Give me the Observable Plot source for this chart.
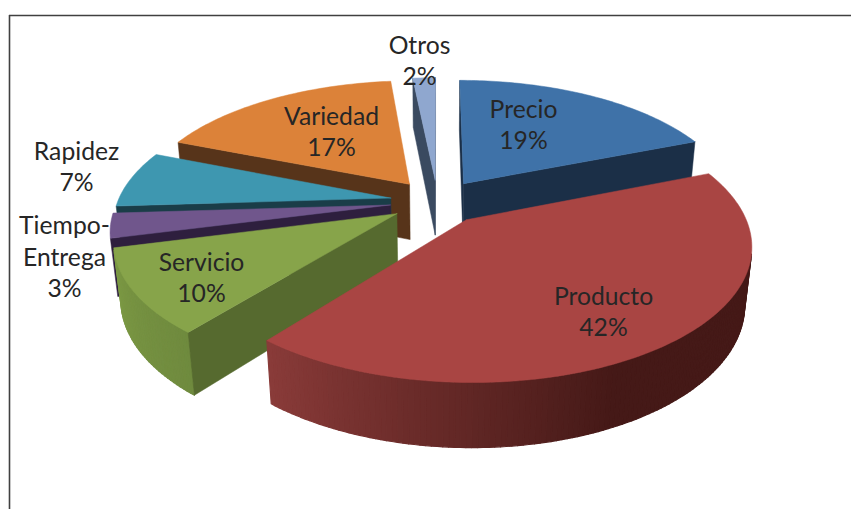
<!DOCTYPE html>
<html><head><meta charset="utf-8">
<style>html,body{margin:0;padding:0;background:#fff}svg{display:block}</style>
<script src="https://cdn.jsdelivr.net/npm/d3@7"></script>
<script src="https://cdn.jsdelivr.net/npm/@observablehq/plot@0.6"></script>
</head><body><div id="chart"></div>
<script>
// Data, clockwise from 12 o'clock
const names = ["Precio","Producto","Servicio","Tiempo-\nEntrega","Rapidez","Variedad","Otros"];
const values = [19,41.8,10.2,3,7,17.4,1.6];
const shown = [19,42,10,3,7,17,2];
// Styles
const topColors = ["#3f72a8","#a94543","#87a44a","#70568c","#3e97b0","#dc8239","#8fa7cf"];
const wallColors = ["#1b2f47","#451917","#566a2f","#2e1f3e","#1a3d48","#57341a","#3a4a60"];
const arcDark = ["#1b2f47","#451917","#6f8a3e","#2e1f3e","#1a3d48","#57341a","#3a4a60"];
const arcLight = ["#1b2f47","#8a3b39","#7c9944","#2e1f3e","#1a3d48","#57341a","#3a4a60"];
const arcDarkFrom = [0,155,219,0,0,0,0];
// Label spots in the pie plane (radius = 1)
const labelX = [0.3524,0.5281,-0.7826,-1.2701,-1.3893,-0.4297,-0.0818];
const labelY = [0.6776,-0.7516,-0.5413,-0.4023,0.2893,0.6095,1.3766];
// Paint order: back to front
const paintOrder = [6,5,0,4,3,2,1];

// Perspective camera
const cx=437, cy=201, R=273, V=127.1, k=0.175, depthBottom=0.022, H=57.5, explode=0.174;
const rad=d=>d*Math.PI/180;
function project(X,Y,bottom){
  const d=1+k*Y+(bottom?depthBottom:0);
  return [cx+R*X/d, cy-V*Y/d+(bottom?H/d:0)];
}
const total=d3.sum(values);
let cum=0;
const slices=values.map((v,i)=>{const a0=cum/total*360;cum+=v;const a1=cum/total*360;return {i,a0,a1,mid:(a0+a1)/2};});

let pid=0;
function poly(target,list,color){
  const id=pid++;
  [...list,list[0]].forEach(p=>target.push({id,px:p[0],py:p[1],color}));
}
function area(l){let s=0;for(let i=0;i<l.length;i++){const a=l[i],b=l[(i+1)%l.length];s+=a[0]*b[1]-b[0]*a[1];}return s/2;}
function wall(target,l,c){if(area(l)<0)poly(target,l,c);}

const all=[];
for(const si of paintOrder){
  const s=slices[si];
  const ex=Math.sin(rad(s.mid))*explode, ey=Math.cos(rad(s.mid))*explode;
  const at=(a,b)=>project(ex+Math.sin(rad(a)),ey+Math.cos(rad(a)),b);
  const apex=b=>project(ex,ey,b);
  const wc=wallColors[si];
  const rs=[],st=[],tp=[];
  wall(rs,[apex(false),at(s.a0,false),at(s.a0,true),apex(true)],wc);
  wall(rs,[at(s.a1,false),apex(false),apex(true),at(s.a1,true)],wc);
  const n=Math.max(2,Math.ceil(s.a1-s.a0));
  const mix=d3.interpolateRgb(arcDark[si],arcLight[si]);
  const from=arcDarkFrom[si];
  for(let j=0;j<n;j++){
    const a=s.a0+(s.a1-s.a0)*j/n, b=s.a0+(s.a1-s.a0)*(j+1)/n;
    const t=from?Math.max(0,Math.min(1,((a+b)/2-from)/(s.a1-from))):1;
    wall(st,[at(a,false),at(b,false),at(b,true),at(a,true)],mix(t));
  }
  const topFace=[apex(false)];
  for(let j=0;j<=n;j++) topFace.push(at(s.a0+(s.a1-s.a0)*j/n,false));
  poly(tp,topFace,topColors[si]);
  all.push({st,rs,tp});
}

const labels=names.map((n,i)=>{const [x,y]=project(labelX[i],labelY[i],false);return {x,y,text:`${n}\n${shown[i]}%`};});

const faceMark=(d,w)=>Plot.line(d,{x:"px",y:"py",z:"id",fill:"color",stroke:"color",strokeWidth:w});
const chart=Plot.plot({
  width:851,height:509,margin:0,
  x:{domain:[0,851],range:[0,851],axis:null},
  y:{domain:[0,509],range:[0,509],axis:null},
  color:{type:"identity"},
  marks:[
    Plot.ruleX([9],{y1:15,y2:509,stroke:"#404040",strokeWidth:1.6}),
    Plot.ruleY([15],{x1:9,x2:851,stroke:"#404040",strokeWidth:1.6}),
    ...all.flatMap(p=>[faceMark(p.st,1.2),faceMark(p.rs,0.5),faceMark(p.tp,0.5)]),
    Plot.text(labels,{x:"x",y:"y",dy:-1.2,text:"text",fontSize:24.7,lineHeight:1.29,fill:"#262626",fontFamily:"Lato"})
  ]
});
document.getElementById("chart").appendChild(chart);
</script></body></html>
